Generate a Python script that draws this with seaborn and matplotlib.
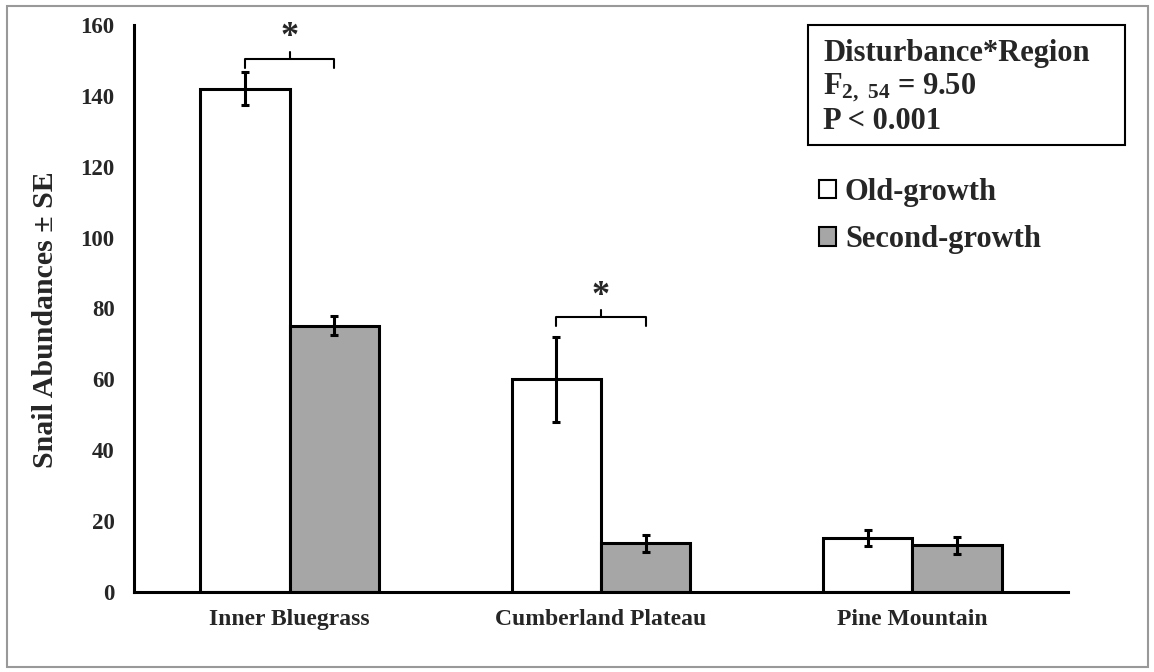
import matplotlib
matplotlib.use("Agg")
import matplotlib.pyplot as plt
import seaborn as sns
import pandas as pd
import numpy as np
from matplotlib.patches import Rectangle, Patch

regions = ["Inner Bluegrass", "Cumberland Plateau", "Pine Mountain"]
groups = ["Old-growth", "Second-growth"]
old_means = [142.0, 60.0, 15.2]
old_se = [4.7, 12.0, 2.3]
second_means = [75.2, 13.7, 13.2]
second_se = [2.7, 2.5, 2.4]
y_ticks = [0, 20, 40, 60, 80, 100, 120, 140, 160]

df = pd.DataFrame({
    "Region": regions * 2,
    "Group": [groups[0]] * 3 + [groups[1]] * 3,
    "Mean": old_means + second_means,
    "SE": old_se + second_se,
})

sns.set_style("white")
plt.rcParams["font.family"] = ["Liberation Serif", "DejaVu Serif"]
plt.rcParams["font.weight"] = "bold"
plt.rcParams["mathtext.fontset"] = "custom"
plt.rcParams["mathtext.rm"] = "Liberation Serif:bold"
plt.rcParams["mathtext.bf"] = "Liberation Serif:bold"
plt.rcParams["mathtext.it"] = "Liberation Serif:bold"

W, H = 1154, 672
fig = plt.figure(figsize=(W / 100, H / 100), dpi=100)
ax = fig.add_axes([134 / W, 1 - 592 / H, (1068 - 134) / W, (592 - 25) / H])

palette = {groups[0]: "white", groups[1]: "#a6a6a6"}
sns.barplot(data=df, x="Region", y="Mean", hue="Group", order=regions,
            hue_order=groups, palette=palette, width=0.574, gap=0,
            edgecolor="black", linewidth=2.2, errorbar=None, legend=False, ax=ax)

# error bars from bar positions
bars = [p for p in ax.patches if isinstance(p, Rectangle) and p.get_width() > 0][:6]
centers = {}
for i, p in enumerate(bars):
    g = i // 3
    r = i % 3
    centers[(g, r)] = p.get_x() + p.get_width() / 2
for (g, r), cx in centers.items():
    m = old_means[r] if g == 0 else second_means[r]
    s = old_se[r] if g == 0 else second_se[r]
    ax.errorbar(cx, m, yerr=s, fmt="none", ecolor="black", elinewidth=2.2,
                capsize=3, capthick=2.2, zorder=5)

# significance brackets
def bracket(r, y, star_y):
    x0, x1 = centers[(0, r)], centers[(1, r)]
    xm = (x0 + x1) / 2
    ax.plot([x0, x0, x1, x1], [y - 2.5, y, y, y - 2.5], color="black", lw=1.5,
            solid_joinstyle="round")
    ax.plot([xm, xm], [y, y + 2], color="black", lw=1.5)
    ax.text(xm, star_y, "*", ha="center", va="center", fontsize=26,
            fontweight="bold")

bracket(0, 150.5, 156.5)
bracket(1, 77.5, 83.5)

ax.set_xlim(-0.5, 2.5)
ax.set_ylim(0, 160)
ax.set_yticks(y_ticks)
ax.set_yticklabels([str(t) for t in y_ticks], fontsize=16.5, fontweight="bold")
ax.set_xticks(range(3))
ax.set_xticklabels(regions, fontsize=17, fontweight="bold")
ax.set_xticks([-0.5, 0.5, 1.5, 2.5], minor=True)
ax.tick_params(axis="x", which="major", length=0, pad=12)
ax.tick_params(axis="x", which="minor", length=6, width=2, direction="out", color="black")
ax.tick_params(axis="y", length=5, width=2, direction="out", color="black", pad=9)
ax.set_xlabel("")
ax.set_ylabel("Snail Abundances \u00b1 SE", fontsize=21.5, fontweight="bold")
ax.yaxis.set_label_coords(-0.080, 0.48)

for side in ["top", "right"]:
    ax.spines[side].set_visible(False)
for side in ["left", "bottom"]:
    ax.spines[side].set_color("black")
    ax.spines[side].set_linewidth(2.2)

# legend
handles = [Patch(facecolor="white", edgecolor="black", linewidth=1.5),
           Patch(facecolor="#a6a6a6", edgecolor="black", linewidth=1.5)]
leg = ax.legend(handles, groups, loc="upper left",
                bbox_to_anchor=((819 - 134) / (1068 - 134), (592 - 178) / (592 - 25)),
                frameon=False, prop={"family": "Liberation Serif", "weight": "bold", "size": 22},
                handlelength=0.55, handleheight=0.55, handletextpad=0.3, labelspacing=0.6,
                borderaxespad=0, borderpad=0)

# statistics box
fig.patches.append(Rectangle((808 / W, 1 - 145 / H), (1125 - 808) / W, (145 - 25) / H,
                             transform=fig.transFigure, facecolor="white",
                             edgecolor="black", linewidth=1.5, zorder=3))
fig.text(823 / W, 1 - 39 / H, "Disturbance*Region\nF$_{\\mathrm{2,\\ 54}}$ = 9.50\nP < 0.001",
         ha="left", va="top", fontsize=22, fontweight="bold", linespacing=1.14, zorder=4)

# outer figure border
fig.patches.append(Rectangle((7 / W, 1 - 667 / H), (1148 - 7) / W, (667 - 6) / H,
                             transform=fig.transFigure, facecolor="none",
                             edgecolor="#999999", linewidth=1.5, zorder=0))

fig.savefig("out.png", dpi=100)
